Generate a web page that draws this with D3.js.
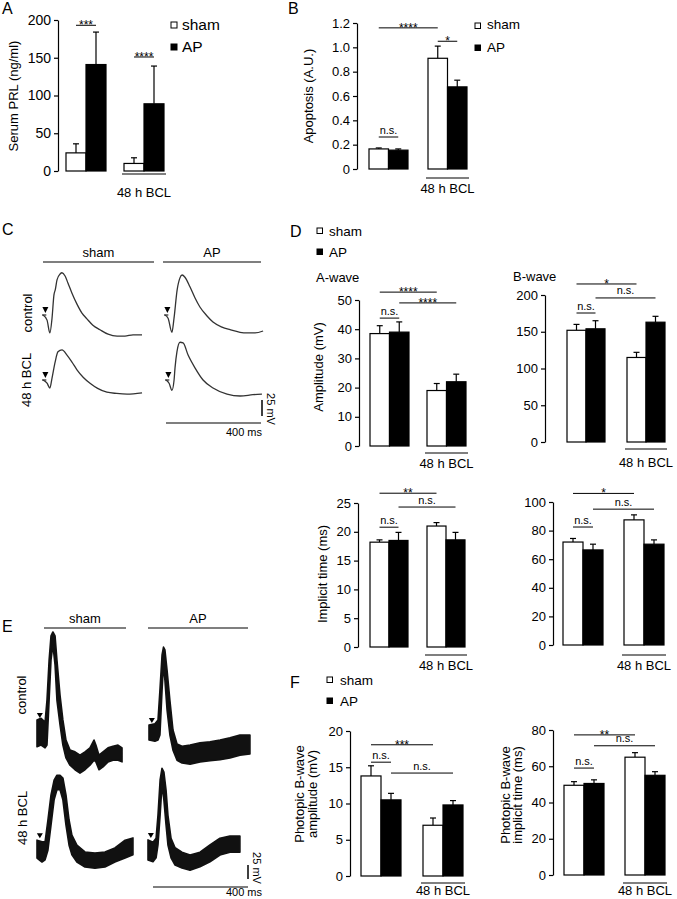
<!DOCTYPE html>
<html>
<head>
<meta charset="utf-8">
<script src="https://cdn.jsdelivr.net/npm/d3@7"></script>
<style>
  body { margin: 0; background: #fff; }
  svg { display: block; font-family: "Liberation Sans", Arial, sans-serif; }
</style>
</head>
<body>
<div id="fig"></div>
<script>
/*************************/
/* CONSTANTS AND GLOBALS */
/*************************/
const width = 677;
const height = 899;

const groups = ["control", "48 h BCL"];
const series = ["sham", "AP"];

/* A - serum prolactin (ng/ml) */
const prlSham = [24, 10];
const prlShamSem = [12, 7.5];
const prlAP = [141, 89];
const prlAPSem = [43, 50];

/* B - apoptosis (A.U.) */
const apoSham = [0.165, 0.91];
const apoShamSem = [0.008, 0.1];
const apoAP = [0.155, 0.675];
const apoAPSem = [0.01, 0.055];

/* D - scotopic ERG */
const aAmpSham = [38.5, 19];
const aAmpShamSem = [2.7, 2.4];
const aAmpAP = [39, 22];
const aAmpAPSem = [3.5, 2.6];

const bAmpSham = [152, 115];
const bAmpShamSem = [8, 7];
const bAmpAP = [154, 163];
const bAmpAPSem = [11, 8];

const aTimeSham = [18.2, 21];
const aTimeShamSem = [0.4, 0.6];
const aTimeAP = [18.5, 18.6];
const aTimeAPSem = [1.4, 1.3];

const bTimeSham = [72, 87.5];
const bTimeShamSem = [2.5, 3.5];
const bTimeAP = [66.5, 70.5];
const bTimeAPSem = [4, 3];

/* F - photopic B-wave */
const pAmpSham = [13.8, 7];
const pAmpShamSem = [1.4, 1];
const pAmpAP = [10.5, 9.8];
const pAmpAPSem = [0.9, 0.6];

const pTimeSham = [49.5, 65];
const pTimeShamSem = [2, 2.5];
const pTimeAP = [50.5, 55];
const pTimeAPSem = [2, 2];

/* C - scotopic traces, [ms, mV] */
const ergShamControl = [[0,0],[17,-8],[29,-28],[38,-5],[46,31],[52,40],[59,55],[72,64],[80,66],[93,61],[105,50],[122,34],[143,17],[164,3],[185,-6],[210,-16],[240,-23],[274,-30],[312,-33],[345,-33],[379,-31],[417,-31]];
const ergSham48 = [[0,0],[17,-5],[29,-12.5],[38,3],[51,28],[63,44],[80,47],[101,39],[122,28],[143,16],[170,4],[198,-5],[230,-13],[269,-19],[310,-21],[354,-22],[417,-20]];
const ergAPControl = [[0,0],[13,-5],[29,-27],[38,-5],[51,39],[63,58],[72,62.5],[84,59],[105,44],[126,27],[147,12.5],[177,-1.5],[202,-11],[240,-19],[274,-23],[316,-27],[345,-28],[379,-28],[413,-25]];
const ergAP48 = [[0,0],[13,-5],[25,-16],[34,0],[38,19],[46,44],[59,59],[72,58],[93,39],[122,19],[156,0],[198,-12.5],[257,-22],[312,-25],[366,-23],[404,-22]];

/* E - photopic traces, [ms, low mV, high mV] */
const phoShamControl = [[0,-21,27],[17,-18,30],[34,-23,23],[42,-18,62],[51,62,134],[59,134,177],[67,161,184],[76,125,177],[84,62,134],[97,18,71],[109,-18,27],[122,-41,-9],[139,-54,-27],[160,-62,-30],[181,-68,-36],[202,-62,-30],[223,-54,-23],[240,-45,-9],[248,-48,-18],[261,-62,-36],[278,-57,-30],[299,-48,-23],[320,-45,-20],[341,-45,-18],[358,-48,-23]];
const phoAPControl = [[0,-9,18],[25,-11,20],[38,-9,27],[46,0,80],[55,80,143],[61,125,157],[67,98,152],[76,45,116],[88,0,62],[101,-27,9],[118,-45,-16],[139,-50,-20],[173,-52,-18],[215,-48,-14],[257,-46,-12],[299,-44,-9],[341,-41,-5],[383,-36,0],[425,-34,0]];
const phoSham48 = [[0,-18,14],[21,-25,11],[34,-21,11],[46,-4,50],[59,41,95],[72,86,121],[84,104,130],[97,104,130],[109,86,125],[122,41,95],[135,5,50],[147,-12,23],[168,-25,5],[202,-34,-7],[244,-36,-9],[286,-34,-7],[328,-25,0],[371,-18,14],[404,-12,18]];
const phoAP48 = [[0,-18,18],[21,-21,14],[34,-14,21],[42,9,62],[51,62,125],[59,116,146],[67,89,139],[76,45,107],[84,9,62],[97,-14,21],[114,-27,4],[143,-32,-4],[177,-36,-9],[219,-30,-4],[261,-21,9],[303,-9,21],[345,-4,25],[387,-4,25]];

const scaleMs = 400;
const scaleMv = 25;

const svg = d3.select("#fig")
  .append("svg")
  .attr("width", width)
  .attr("height", height);

/*********************/
/* HELPER FUNCTIONS  */
/*********************/

function panelLetter(letter, x, y) {
  svg.append("text")
    .attr("x", x).attr("y", y)
    .attr("font-size", 16)
    .text(letter);
}

function legend(x, ys, size, textX, baselines, fontSize) {
  series.forEach((s, i) => {
    svg.append("rect")
      .attr("x", x).attr("y", ys[i])
      .attr("width", size).attr("height", size)
      .attr("fill", i === 0 ? "#fff" : "#000")
      .attr("stroke", "#000")
      .attr("stroke-width", 1);
    svg.append("text")
      .attr("x", textX).attr("y", baselines[i])
      .attr("font-size", fontSize)
      .text(s);
  });
}

function rotLabel(text, cx, cy, size, angle) {
  svg.append("text")
    .attr("transform", `translate(${cx},${cy}) rotate(${angle})`)
    .attr("text-anchor", "middle")
    .attr("dy", "0.35em")
    .attr("font-size", size)
    .text(text);
}

/* bar panel with SEM bars, significance lines and 48 h BCL underline */
function barPanel(p) {
  const y = d3.scaleLinear().domain(p.domain).range([p.yBottom, p.yTop]);
  const gap = p.pitch - 2 * p.bw;
  const xGroup = d3.scaleBand()
    .domain(groups)
    .range([p.x0, p.x0 + 2 * p.pitch - gap])
    .paddingInner(gap / p.pitch)
    .paddingOuter(0);
  const xSeries = d3.scaleBand().domain(series).range([0, xGroup.bandwidth()]);

  const rows = groups.flatMap((g, i) => series.map((s, j) => ({
    g, s,
    v: [p.sham, p.ap][j][i],
    e: [p.shamSem, p.apSem][j][i]
  })));

  const g = svg.append("g");

  // y axis
  const axis = g.append("g")
    .attr("transform", `translate(${p.ax},0)`)
    .call(d3.axisLeft(y).tickValues(p.ticks).tickSize(4).tickSizeOuter(0).tickPadding(3).tickFormat(p.fmt));
  axis.attr("font-family", null).attr("font-size", p.tickFont || 13);
  axis.selectAll("path, line").attr("stroke", "#000").attr("stroke-width", 1.2);
  axis.selectAll("text").attr("fill", "#000");

  // error bars (upward only)
  const cx = d => xGroup(d.g) + xSeries(d.s) + xSeries.bandwidth() / 2;
  g.selectAll("line.err")
    .data(rows)
    .join("line")
    .attr("class", "err")
    .attr("x1", cx).attr("x2", cx)
    .attr("y1", d => y(d.v)).attr("y2", d => y(d.v + d.e))
    .attr("stroke", "#000").attr("stroke-width", 1.2);
  g.selectAll("line.cap")
    .data(rows)
    .join("line")
    .attr("class", "cap")
    .attr("x1", d => cx(d) - 3).attr("x2", d => cx(d) + 3)
    .attr("y1", d => y(d.v + d.e)).attr("y2", d => y(d.v + d.e))
    .attr("stroke", "#000").attr("stroke-width", 1.2);

  // bars
  g.selectAll("rect.bar")
    .data(rows)
    .join("rect")
    .attr("class", "bar")
    .attr("x", d => xGroup(d.g) + xSeries(d.s))
    .attr("y", d => y(d.v))
    .attr("width", xSeries.bandwidth())
    .attr("height", d => y(0) - y(d.v))
    .attr("fill", d => d.s === "sham" ? "#fff" : "#000")
    .attr("stroke", "#000")
    .attr("stroke-width", 1.2);

  // significance
  (p.sig || []).forEach(s => {
    const xa = xGroup(s.from[0]) + xSeries(s.from[1]) + xSeries.bandwidth() / 2;
    const xb = xGroup(s.to[0]) + xSeries(s.to[1]) + xSeries.bandwidth() / 2;
    const yy = y(s.at);
    g.append("line")
      .attr("x1", xa).attr("x2", xb)
      .attr("y1", yy).attr("y2", yy)
      .attr("stroke", "#000").attr("stroke-width", 1);
    const isStar = s.text.indexOf("*") >= 0;
    g.append("text")
      .attr("x", (xa + xb) / 2)
      .attr("y", isStar ? yy + 4 : yy - 3.5)
      .attr("text-anchor", "middle")
      .attr("font-size", isStar ? 12 : 11)
      .text(s.text);
  });

  // 48 h BCL underline
  const bx1 = xGroup(groups[1]) - 2;
  const bx2 = xGroup(groups[1]) + xGroup.bandwidth() + 2;
  g.append("line")
    .attr("x1", bx1).attr("x2", bx2)
    .attr("y1", p.bclLine).attr("y2", p.bclLine)
    .attr("stroke", "#000").attr("stroke-width", 1.2);
  g.append("text")
    .attr("x", (bx1 + bx2) / 2)
    .attr("y", p.bclText)
    .attr("text-anchor", "middle")
    .attr("font-size", 13)
    .text(groups[1]);

  // y label(s)
  (p.label || []).forEach((l, i) => rotLabel(l, p.labelX[i], p.labelY, 13, -90));
}

/* header line with a condition name over a column of traces */
function header(text, x1, x2, lineY, textY) {
  svg.append("line")
    .attr("x1", x1).attr("x2", x2)
    .attr("y1", lineY).attr("y2", lineY)
    .attr("stroke", "#000").attr("stroke-width", 1.2);
  svg.append("text")
    .attr("x", (x1 + x2) / 2).attr("y", textY)
    .attr("text-anchor", "middle")
    .attr("font-size", 13)
    .text(text);
}

function arrowHead(x, yBottom, w, h) {
  svg.append("path")
    .attr("d", `M${x - w / 2},${yBottom - h}L${x + w / 2},${yBottom - h}L${x},${yBottom}Z`)
    .attr("fill", "#000");
}

function traceScales(ox, oy, mvPx) {
  return {
    x: d3.scaleLinear().domain([0, scaleMs]).range([ox, ox + 95]),
    y: d3.scaleLinear().domain([0, scaleMv]).range([oy, oy - mvPx])
  };
}

/* thin scotopic trace */
function lineTrace(data, ox, oy, mvPx) {
  const { x, y } = traceScales(ox, oy, mvPx);
  svg.append("path")
    .datum(data)
    .attr("d", d3.line().x(d => x(d[0])).y(d => y(d[1])).curve(d3.curveMonotoneX))
    .attr("fill", "none")
    .attr("stroke", "#333")
    .attr("stroke-width", 1.3);
  svg.append("line")
    .attr("x1", x(0) - 1).attr("x2", x(14))
    .attr("y1", y(0)).attr("y2", y(0))
    .attr("stroke", "#333").attr("stroke-width", 1.3);
  arrowHead(x(10), y(0) - 2, 6, 6);
}

/* noisy photopic trace drawn as min/max envelope */
function bandTrace(data, ox, oy, mvPx) {
  const { x, y } = traceScales(ox, oy, mvPx);
  svg.append("path")
    .datum(data)
    .attr("d", d3.area().x(d => x(d[0])).y0(d => y(d[1])).y1(d => y(d[2])).curve(d3.curveLinear))
    .attr("fill", "#111")
    .attr("stroke", "#111")
    .attr("stroke-width", 1.6)
    .attr("stroke-linejoin", "round");
  arrowHead(x(12), y(data[0][2]) - 2, 6, 5);
}

function scaleBars(sc, vx, vy, hy, mvLabel, msLabel) {
  svg.append("line")
    .attr("x1", vx).attr("x2", vx)
    .attr("y1", vy).attr("y2", vy + (sc.y(0) - sc.y(scaleMv)))
    .attr("stroke", "#000").attr("stroke-width", 1.5);
  svg.append("line")
    .attr("x1", sc.x(0)).attr("x2", sc.x(scaleMs))
    .attr("y1", hy).attr("y2", hy)
    .attr("stroke", "#000").attr("stroke-width", 1.2);
  rotLabel(`${scaleMv} mV`, mvLabel[0], mvLabel[1], 11, 90);
  svg.append("text")
    .attr("x", msLabel[0]).attr("y", msLabel[1])
    .attr("text-anchor", "end")
    .attr("font-size", 11)
    .text(`${scaleMs} ms`);
}

/*************/
/* PANEL A   */
/*************/
panelLetter("A", 2, 14);
barPanel({
  ax: 58, yBottom: 171, yTop: 20, domain: [0, 200], ticks: [0, 50, 100, 150, 200],
  fmt: d3.format("d"), tickFont: 14,
  x0: 66, pitch: 58, bw: 20,
  sham: prlSham, shamSem: prlShamSem, ap: prlAP, apSem: prlAPSem,
  sig: [
    { from: ["control", "sham"], to: ["control", "AP"], at: 193, text: "***" },
    { from: ["48 h BCL", "sham"], to: ["48 h BCL", "AP"], at: 151, text: "****" }
  ],
  bclLine: 174, bclText: 197,
  label: ["Serum PRL (ng/ml)"], labelX: [13], labelY: 96
});
legend(171, [22, 44], 6, 182, [30, 52], 15.5);

/*************/
/* PANEL B   */
/*************/
panelLetter("B", 288, 14);
barPanel({
  ax: 357, yBottom: 169, yTop: 23, domain: [0, 1.2], ticks: [0, 0.2, 0.4, 0.6, 0.8, 1.0, 1.2],
  fmt: d => d === 0 ? "0" : d3.format(".1f")(d),
  x0: 369, pitch: 59, bw: 19.5,
  sham: apoSham, shamSem: apoShamSem, ap: apoAP, apSem: apoAPSem,
  sig: [
    { from: ["control", "sham"], to: ["48 h BCL", "sham"], at: 1.16, text: "****" },
    { from: ["48 h BCL", "sham"], to: ["48 h BCL", "AP"], at: 1.05, text: "*" },
    { from: ["control", "sham"], to: ["control", "AP"], at: 0.263, text: "n.s." }
  ],
  bclLine: 178, bclText: 193,
  label: ["Apoptosis (A.U.)"], labelX: [308], labelY: 96
});
legend(475, [23, 45], 5.5, 487, [29, 52], 13.5);

/*************/
/* PANEL C   */
/*************/
panelLetter("C", 2, 235);
header("sham", 43, 154, 262, 257);
header("AP", 163, 261, 262, 257);
rotLabel("control", 27, 313, 13, -90);
rotLabel("48 h BCL", 26, 380, 13, -90);
lineTrace(ergShamControl, 43, 315, 16);
lineTrace(ergSham48, 43, 380, 16);
lineTrace(ergAPControl, 165, 315, 16);
lineTrace(ergAP48, 166, 380, 16);
scaleBars(traceScales(166, 380, 16), 262, 400, 423, [271, 409], [262, 436]);

/*************/
/* PANEL D   */
/*************/
panelLetter("D", 290, 237);
legend(317, [228, 249], 5.5, 329, [236, 257], 13.5);
svg.append("text").attr("x", 316).attr("y", 282).attr("font-size", 13).text("A-wave");
svg.append("text").attr("x", 513).attr("y", 281).attr("font-size", 13).text("B-wave");

barPanel({
  ax: 359, yBottom: 446, yTop: 300, domain: [0, 50], ticks: [0, 10, 20, 30, 40, 50],
  fmt: d3.format("d"),
  x0: 370, pitch: 57, bw: 19.5,
  sham: aAmpSham, shamSem: aAmpShamSem, ap: aAmpAP, apSem: aAmpAPSem,
  sig: [
    { from: ["control", "sham"], to: ["48 h BCL", "sham"], at: 52.7, text: "****" },
    { from: ["control", "AP"], to: ["48 h BCL", "AP"], at: 49, text: "****" },
    { from: ["control", "sham"], to: ["control", "AP"], at: 43.8, text: "n.s." }
  ],
  bclLine: 453, bclText: 468,
  label: ["Amplitude (mV)"], labelX: [318], labelY: 367
});

barPanel({
  ax: 545, yBottom: 442, yTop: 295, domain: [0, 200], ticks: [0, 50, 100, 150, 200],
  fmt: d3.format("d"),
  x0: 567, pitch: 60, bw: 19,
  sham: bAmpSham, shamSem: bAmpShamSem, ap: bAmpAP, apSem: bAmpAPSem,
  sig: [
    { from: ["control", "sham"], to: ["48 h BCL", "sham"], at: 215, text: "*" },
    { from: ["control", "AP"], to: ["48 h BCL", "AP"], at: 196, text: "n.s." },
    { from: ["control", "sham"], to: ["control", "AP"], at: 175.5, text: "n.s." }
  ],
  bclLine: 449, bclText: 467
});

barPanel({
  ax: 358, yBottom: 647, yTop: 503, domain: [0, 25], ticks: [0, 5, 10, 15, 20, 25],
  fmt: d3.format("d"),
  x0: 370, pitch: 57, bw: 19,
  sham: aTimeSham, shamSem: aTimeShamSem, ap: aTimeAP, apSem: aTimeAPSem,
  sig: [
    { from: ["control", "sham"], to: ["48 h BCL", "sham"], at: 26.7, text: "**" },
    { from: ["control", "AP"], to: ["48 h BCL", "AP"], at: 24.3, text: "n.s." },
    { from: ["control", "sham"], to: ["control", "AP"], at: 20.8, text: "n.s." }
  ],
  bclLine: 655, bclText: 670,
  label: ["Implicit time (ms)"], labelX: [322], labelY: 574
});

barPanel({
  ax: 553, yBottom: 645, yTop: 502, domain: [0, 100], ticks: [0, 20, 40, 60, 80, 100],
  fmt: d3.format("d"),
  x0: 563, pitch: 61, bw: 20,
  sham: bTimeSham, shamSem: bTimeShamSem, ap: bTimeAP, apSem: bTimeAPSem,
  sig: [
    { from: ["control", "sham"], to: ["48 h BCL", "sham"], at: 106, text: "*" },
    { from: ["control", "AP"], to: ["48 h BCL", "AP"], at: 95, text: "n.s." },
    { from: ["control", "sham"], to: ["control", "AP"], at: 82.5, text: "n.s." }
  ],
  bclLine: 655, bclText: 670
});

/*************/
/* PANEL E   */
/*************/
panelLetter("E", 2, 632);
header("sham", 44, 126, 628, 623);
header("AP", 148, 248, 628, 623);
rotLabel("control", 21, 695, 13, -90);
rotLabel("48 h BCL", 22, 818, 13, -90);
bandTrace(phoShamControl, 37, 735, 14);
bandTrace(phoAPControl, 149, 735, 14);
bandTrace(phoSham48, 37, 848, 14);
bandTrace(phoAP48, 148, 850, 14);
scaleBars(traceScales(153, 850, 14), 248, 865, 887, [257, 868], [262, 896]);

/*************/
/* PANEL F   */
/*************/
panelLetter("F", 290, 688);
legend(327, [677, 698], 5.5, 340, [685, 706], 13.5);

barPanel({
  ax: 350, yBottom: 876, yTop: 731, domain: [0, 20], ticks: [0, 5, 10, 15, 20],
  fmt: d3.format("d"),
  x0: 361, pitch: 62, bw: 20,
  sham: pAmpSham, shamSem: pAmpShamSem, ap: pAmpAP, apSem: pAmpAPSem,
  sig: [
    { from: ["control", "sham"], to: ["48 h BCL", "sham"], at: 18.1, text: "***" },
    { from: ["control", "sham"], to: ["control", "AP"], at: 15.7, text: "n.s." },
    { from: ["control", "AP"], to: ["48 h BCL", "AP"], at: 14.2, text: "n.s." }
  ],
  bclLine: 883, bclText: 895,
  label: ["Photopic B-wave", "amplitude (mV)"], labelX: [299, 312], labelY: 794
});

barPanel({
  ax: 553, yBottom: 875, yTop: 730, domain: [0, 80], ticks: [0, 20, 40, 60, 80],
  fmt: d3.format("d"),
  x0: 564, pitch: 61, bw: 20,
  sham: pTimeSham, shamSem: pTimeShamSem, ap: pTimeAP, apSem: pTimeAPSem,
  sig: [
    { from: ["control", "sham"], to: ["48 h BCL", "sham"], at: 77.3, text: "**" },
    { from: ["control", "AP"], to: ["48 h BCL", "AP"], at: 71.3, text: "n.s." },
    { from: ["control", "sham"], to: ["control", "AP"], at: 59, text: "n.s." }
  ],
  bclLine: 883, bclText: 895,
  label: ["Photopic B-wave", "implicit time (ms)"], labelX: [505, 517], labelY: 795
});
</script>
</body>
</html>
